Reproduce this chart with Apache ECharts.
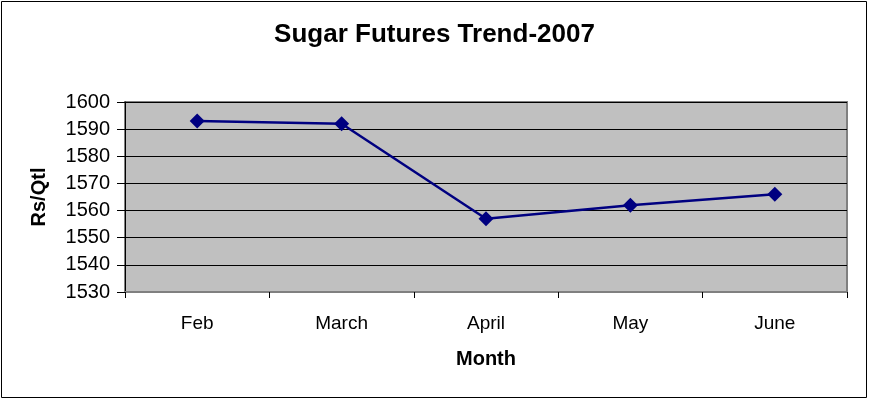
<!DOCTYPE html>
<html>
<head>
<meta charset="utf-8">
<script src="https://cdn.jsdelivr.net/npm/echarts@6/dist/echarts.min.js"></script>
<style>
  html, body { margin: 0; padding: 0; background: #fff; }
  #chart { width: 869px; height: 400px; }
</style>
</head>
<body>
<div id="chart"></div>
<script>
// Monthly sugar futures prices (Rs per quintal), 2007
const months = ['Feb', 'March', 'April', 'May', 'June'];
const prices = [1593, 1592, 1557, 1562, 1566];
const yTicks = { min: 1530, max: 1600, step: 10 };

const font = '"Liberation Sans", Arial, sans-serif';
const chart = echarts.init(document.getElementById('chart'));

chart.setOption({
  animation: false,
  backgroundColor: '#ffffff',
  title: {
    text: 'Sugar Futures Trend-2007',
    left: 'center',
    top: 17,
    textStyle: { fontFamily: font, fontSize: 26, fontWeight: 'bold', color: '#000' }
  },
  graphic: [{
    type: 'rect',
    shape: { x: 1.5, y: 1.5, width: 865, height: 396 },
    style: { fill: 'none', stroke: '#000', lineWidth: 1 },
    silent: true
  }],
  grid: {
    left: 125, right: 22, top: 102, bottom: 108,
    show: true,
    backgroundColor: '#C0C0C0',
    borderColor: '#808080',
    borderWidth: 2
  },
  xAxis: {
    type: 'category',
    data: months,
    boundaryGap: true,
    name: 'Month',
    nameLocation: 'middle',
    nameGap: 57,
    nameTextStyle: { fontFamily: font, fontSize: 20, fontWeight: 'bold', color: '#000' },
    axisLine: { show: true, lineStyle: { color: '#808080', width: 2 } },
    axisTick: { show: true, length: 6, lineStyle: { color: '#000', width: 1 } },
    axisLabel: { fontFamily: font, fontSize: 19, color: '#000', margin: 22 },
    splitLine: { show: false }
  },
  yAxis: {
    type: 'value',
    min: yTicks.min,
    max: yTicks.max,
    interval: yTicks.step,
    name: 'Rs/Qtl',
    nameLocation: 'middle',
    nameGap: 76,
    nameRotate: 90,
    nameTextStyle: { fontFamily: font, fontSize: 20, fontWeight: 'bold', color: '#000' },
    axisLine: { show: true, lineStyle: { color: '#000', width: 1 } },
    axisTick: { show: true, length: 8, lineStyle: { color: '#000' } },
    axisLabel: {
      fontFamily: font, fontSize: 20, color: '#000', margin: 15,
      formatter: (v) => String(v)
    },
    splitLine: { show: true, lineStyle: { color: '#000', width: 1 } }
  },
  series: [{
    type: 'line',
    data: prices,
    symbol: 'diamond',
    symbolSize: 15,
    lineStyle: { color: '#000080', width: 2.5 },
    itemStyle: { color: '#000080' }
  }]
});
</script>
</body>
</html>
